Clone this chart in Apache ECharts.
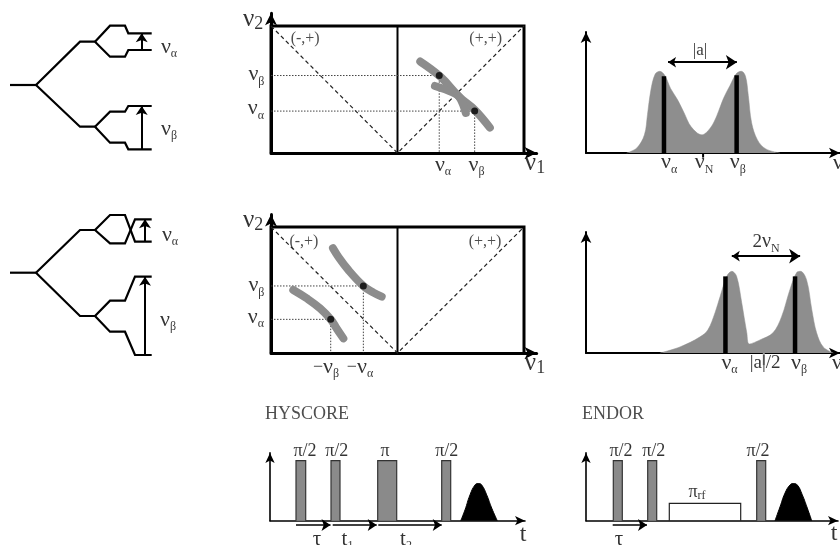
<!DOCTYPE html>
<html><head><meta charset="utf-8">
<script src="https://cdn.jsdelivr.net/npm/echarts@6/dist/echarts.min.js"></script>
<style>html,body{margin:0;padding:0;background:#fff}#c{width:840px;height:545px}</style>
</head><body><div id="c"></div>
<script>
// ---------------- DATA ----------------
// Energy-level diagram, top (arbitrary units: x position, energy)
const levTopTrunk = [[1.0,9.5],[3.6,9.5]];
const levTopA  = [[3.6,9.5],[8.0,13.83],[9.5,13.83]];
const levTopA1 = [[9.5,13.83],[11.0,15.43],[12.5,15.43],[12.83,14.67],[15.17,14.67]];
const levTopA2 = [[9.5,13.83],[11.0,12.33],[12.5,12.33],[12.83,13.0],[15.17,13.0]];
const levTopB  = [[3.6,9.5],[8.0,5.33],[9.5,5.33]];
const levTopB1 = [[9.5,5.33],[11.0,6.83],[12.5,6.83],[12.83,7.4],[15.17,7.4]];
const levTopB2 = [[9.5,5.33],[11.0,3.73],[12.5,3.73],[12.83,3.07],[15.17,3.07]];
const levTopArrows = [[[14.17,13.0],[14.17,14.67]],[[14.17,3.07],[14.17,7.4]]];
const levTopLabels = [[16.9,13.3,'{v|ν}{s|α}'],[16.9,5.1,'{v|ν}{s|β}']];

// Energy-level diagram, bottom
const levBotTrunk = [[1.0,10.73],[3.6,10.73]];
const levBotA  = [[3.6,10.73],[8.0,15.0],[9.5,15.0]];
const levBotA1 = [[9.5,15.0],[11.0,16.5],[12.5,16.5],[13.5,13.83],[15.17,13.83]];
const levBotA2 = [[9.5,15.0],[11.0,13.67],[12.5,13.67],[13.5,16.07],[15.17,16.07]];
const levBotB  = [[3.6,10.73],[8.0,6.4],[9.5,6.4]];
const levBotB1 = [[9.5,6.4],[11.0,7.93],[12.5,7.93],[13.5,10.33],[15.17,10.33]];
const levBotB2 = [[9.5,6.4],[11.0,4.83],[12.5,4.83],[13.5,2.5],[15.17,2.5]];
const levBotArrows = [[[14.5,13.83],[14.5,16.07]],[[14.5,2.5],[14.5,10.33]]];
const levBotLabels = [[17.0,14.5,'{v|ν}{s|α}'],[16.8,6.0,'{v|ν}{s|β}']];

// HYSCORE maps (nu1 in [-1,1], nu2 in [0,1])
const hysBox  = [[-1,0],[-1,1],[1,1],[1,0]];
const hysMid  = [[0,0],[0,1]];
const hysDiag = [[-1,1],[0,0],[1,1]];

const hys1Dots   = [[0.33,0.61],[0.61,0.33]];
const hys1Guides = [[[-1,0.61],[0.33,0.61],[0.33,0]],[[-1,0.33],[0.61,0.33],[0.61,0]]];
const hys1RidgeA = [[0.18,0.72],[0.34,0.60],[0.49,0.44],[0.61,0.34],[0.73,0.20]];
const hys1RidgeB = [[0.296,0.528],[0.44,0.475],[0.49,0.44],[0.54,0.315]];
const hys1Labels = [
  [-1.142,1.055,'{V|ν}{D|2}'],[-0.73,0.898,'{q|(-,+)}'],[0.697,0.898,'{q|(+,+)}'],
  [-1.115,0.618,'{v|ν}{s|β}'],[-1.12,0.35,'{v|ν}{s|α}'],
  [0.36,-0.094,'{v|ν}{s|α}'],[0.625,-0.094,'{v|ν}{s|β}'],[1.087,-0.08,'{V|ν}{D|1}']
];

const hys2Dots   = [[-0.27,0.532],[-0.528,0.267]];
const hys2Guides = [[[-1,0.532],[-0.27,0.532],[-0.27,0]],[[-1,0.267],[-0.528,0.267],[-0.528,0]]];
const hys2RidgeA = [[-0.51,0.831],[-0.468,0.764],[-0.389,0.659],[-0.27,0.532],[-0.19,0.479],[-0.125,0.447]];
const hys2RidgeB = [[-0.824,0.5],[-0.718,0.434],[-0.613,0.355],[-0.528,0.267],[-0.481,0.195],[-0.428,0.116]];
const hys2Labels = [
  [-1.142,1.055,'{V|ν}{D|2}'],[-0.74,0.881,'{q|(-,+)}'],[0.692,0.881,'{q|(+,+)}'],
  [-1.115,0.536,'{v|ν}{s|β}'],[-1.12,0.287,'{v|ν}{s|α}'],
  [-0.565,-0.11,'{m|−}{v|ν}{s|β}'],[-0.296,-0.11,'{m|−}{v|ν}{s|α}'],[1.087,-0.08,'{V|ν}{D|1}']
];

// Spectra (frequency, intensity)
const spec1 = [[1.60,0],[2.00,0.05],[2.30,0.18],[2.42,0.38],[2.55,0.62],[2.72,0.78],[2.90,0.81],[3.10,0.77],[3.33,0.64],[3.60,0.53],[3.86,0.40],[4.14,0.26],[4.56,0.18],[4.90,0.25],[5.15,0.37],[5.41,0.54],[5.67,0.67],[5.93,0.79],[6.12,0.81],[6.28,0.76],[6.39,0.57],[6.52,0.30],[6.75,0.13],[7.08,0.04],[7.64,0]];
const spec1Sticks = [[[3.07,0],[3.07,0.76]],[[5.93,0],[5.93,0.77]]];
const spec1Tick = [[4.61,0],[4.61,-0.045]];
const spec1Span = [[[3.23,0.90],[5.94,0.90]]];
const spec1Labels = [[3.27,-0.094,'{v|ν}{s|α}'],[4.65,-0.094,'{v|ν}{s|N}'],[5.98,-0.094,'{v|ν}{s|β}'],[9.92,-0.104,'{v|ν}'],[4.49,1.02,'{k|\u007Ca\u007C}']];

const spec2 = [[2.91,0],[3.70,0.06],[4.49,0.16],[4.80,0.23],[5.08,0.40],[5.28,0.56],[5.54,0.76],[5.74,0.81],[5.93,0.76],[6.13,0.50],[6.33,0.20],[6.43,0.09],[6.85,0.13],[7.36,0.20],[7.70,0.36],[8.03,0.63],[8.30,0.80],[8.45,0.81],[8.69,0.72],[8.89,0.43],[9.08,0.20],[9.34,0.06],[9.74,0]];
const spec2Sticks = [[[5.49,0],[5.49,0.76]],[[8.23,0],[8.23,0.76]]];
const spec2Tick = [[7.0,0],[7.0,-0.12]];
const spec2Span = [[[5.74,0.96],[8.43,0.96]]];
const spec2Labels = [[5.65,-0.1,'{v|ν}{s|α}'],[7.05,-0.1,'{k2|\u007Ca\u007C/2}'],[8.39,-0.1,'{v|ν}{s|β}'],[9.88,-0.1,'{v|ν}'],[7.09,1.1,'{w|2}{v2|ν}{s|N}']];

// Pulse sequences (time, amplitude)
const hysPulses = [[2.6,3.57],[6.1,7.0],[10.77,12.67],[17.17,18.07]];
const hysEcho = [[19.07,0],[19.5,0.18],[20.0,0.43],[20.5,0.595],[20.83,0.62],[21.17,0.595],[21.67,0.43],[22.17,0.21],[22.73,0]];
const hysDelays = [[[2.6,-0.07],[6.05,-0.07]],[[6.27,-0.07],[10.67,-0.07]],[[10.83,-0.07],[17.17,-0.07]]];
const hysLabels = [[-0.5,1.78,'{h|HYSCORE}','left'],[3.5,1.16,'{p|π/2}'],[6.67,1.16,'{p|π/2}'],[11.5,1.16,'{p|π}'],[17.67,1.16,'{p|π/2}'],
  [4.7,-0.32,'{t|τ}'],[7.75,-0.32,'{t|t}{ts|1}'],[13.6,-0.32,'{t|t}{ts|2}'],[25.3,-0.23,'{T|t}']];

const endPulses = [[2.73,3.63],[6.17,7.07],[17.07,17.97]];
const endRF = [[8.33,0],[8.33,0.29],[15.47,0.29],[15.47,0]];
const endEcho = [[18.9,0],[19.4,0.23],[19.9,0.46],[20.4,0.595],[20.73,0.62],[21.13,0.595],[21.63,0.43],[22.13,0.21],[22.57,0]];
const endDelays = [[[2.67,-0.07],[6.1,-0.07]]];
const endLabels = [[-0.4,1.78,'{h|ENDOR}','left'],[3.5,1.16,'{p|π/2}'],[6.77,1.16,'{p|π/2}'],[17.2,1.16,'{p|π/2}'],
  [11.1,0.48,'{p|π}{ts|rf}'],[3.3,-0.32,'{t|τ}'],[24.8,-0.22,'{T|t}']];

// ---------------- LAYOUT / STYLE ----------------
const SERIF = '"Liberation Serif","DejaVu Serif",serif';
const INK = '#000';
const RICH = {
  v:  {fontFamily:SERIF, fontSize:22, color:INK, lineHeight:26},
  v2: {fontFamily:SERIF, fontSize:20, color:INK, lineHeight:26},
  s:  {fontFamily:SERIF, fontSize:12, color:INK, lineHeight:12, verticalAlign:'bottom'},
  V:  {fontFamily:SERIF, fontSize:25, color:INK, lineHeight:28},
  D:  {fontFamily:SERIF, fontSize:18, color:INK, lineHeight:18, verticalAlign:'bottom'},
  m:  {fontFamily:SERIF, fontSize:18, color:INK, lineHeight:26},
  q:  {fontFamily:SERIF, fontSize:16, color:'#222'},
  k:  {fontFamily:SERIF, fontSize:17, color:INK},
  k2: {fontFamily:SERIF, fontSize:19, color:INK},
  w:  {fontFamily:SERIF, fontSize:19, color:INK, lineHeight:26},
  p:  {fontFamily:SERIF, fontSize:18, color:INK, lineHeight:20},
  h:  {fontFamily:SERIF, fontSize:18, color:'#222'},
  t:  {fontFamily:SERIF, fontSize:21, color:INK, lineHeight:24},
  ts: {fontFamily:SERIF, fontSize:12, color:INK, lineHeight:14, verticalAlign:'bottom'},
  T:  {fontFamily:SERIF, fontSize:24, color:INK}
};

const grids = [
  {left:0, top:0, width:200, height:180},
  {left:0, top:180, width:200, height:200},
  {left:271, top:13.3, width:265.65, height:139.7},
  {left:271, top:214.4, width:265.65, height:138.6},
  {left:586, top:32, width:254, height:121},
  {left:586, top:232, width:254, height:121},
  {left:270, top:452.9, width:255, height:67.8},
  {left:586, top:452.9, width:252, height:67.8}
];
const xr = [[0,20],[0,20],[-1,1.1],[-1,1.1],[0,10],[0,10],[0,25.5],[0,25.2]];
const yr = [[0,18],[0,20],[0,1.1],[0,1.1],[0,1.2],[0,1.2],[0,1.13],[0,1.13]];
const axW = [0,0,3,3,2,2,1.6,1.6];
const axS = [0,0,[9,12],[9,12],[8,11],[8,11],[7,10],[7,10]];

function axis(i, rng) {
  const shown = axW[i] > 0;
  return {type:'value', gridIndex:i, min:rng[0], max:rng[1], show:shown,
    axisLine:{show:shown, onZero:false, symbol:['none','arrow'], symbolSize:axS[i] || [1,1], lineStyle:{color:'#000', width:axW[i] || 1}},
    axisTick:{show:false}, axisLabel:{show:false}, splitLine:{show:false}};
}

function poly(g, data, color, width, type, extra) {
  return Object.assign({type:'line', xAxisIndex:g, yAxisIndex:g, data:data, symbol:'none', clip:false, silent:true, animation:false, z:2,
    lineStyle:{color:color, width:width, type:type || 'solid', cap:'butt', join:'miter'}}, extra || {});
}
function arrows(g, segs, both, width, size) {
  return {type:'lines', coordinateSystem:'cartesian2d', xAxisIndex:g, yAxisIndex:g, silent:true, animation:false, z:4, clip:false,
    symbol: both ? ['arrow','arrow'] : ['none','arrow'], symbolSize:size,
    lineStyle:{color:'#000', width:width, opacity:1, curveness:0},
    data: segs.map(function(c){ return {coords:c}; })};
}
function dots(g, pts, size) {
  return {type:'scatter', xAxisIndex:g, yAxisIndex:g, data:pts, symbolSize:size, itemStyle:{color:'#000'}, silent:true, animation:false, z:6, clip:false};
}
function texts(g, items) {
  return {type:'scatter', xAxisIndex:g, yAxisIndex:g, silent:true, animation:false, z:7, clip:false, symbolSize:1,
    itemStyle:{color:'rgba(0,0,0,0)'},
    data: items.map(function(it){ return {value:[it[0], it[1]], label:{show:true, position:'inside',
      formatter:function(){ return it[2]; }, align:it[3] || 'center', verticalAlign:'middle', rich:RICH}}; })};
}

const series = [];
// energy-level diagrams
[levTopTrunk, levTopA, levTopA1, levTopA2, levTopB, levTopB1, levTopB2].forEach(function(d){ series.push(poly(0, d, '#000', 2.2)); });
series.push(arrows(0, levTopArrows, false, 2, [7,9]));
series.push(texts(0, levTopLabels));
[levBotTrunk, levBotA, levBotA1, levBotA2, levBotB, levBotB1, levBotB2].forEach(function(d){ series.push(poly(1, d, '#000', 2.2)); });
series.push(arrows(1, levBotArrows, false, 2, [7,9]));
series.push(texts(1, levBotLabels));

// HYSCORE maps
[[2, hys1Guides, [hys1RidgeA, hys1RidgeB], hys1Dots, hys1Labels], [3, hys2Guides, [hys2RidgeA, hys2RidgeB], hys2Dots, hys2Labels]].forEach(function(p){
  const g = p[0];
  series.push(poly(g, hysBox, '#000', 3));
  series.push(poly(g, hysMid, '#000', 2));
  series.push(poly(g, hysDiag, '#222', 1.2, [4,3]));
  p[1].forEach(function(d){ series.push(poly(g, d, '#444', 1, [1.5,1.5])); });
  p[2].forEach(function(d){ series.push(poly(g, d, '#8c8c8c', 8, 'solid', {smooth:0.4, z:3, lineStyle:{color:'#8c8c8c', width:8, cap:'round', join:'round'}})); });
  series.push(dots(g, p[3], 7));
  series.push(texts(g, p[4]));
});

// spectra
[[4, spec1, spec1Sticks, spec1Tick, spec1Span, spec1Labels, '#000'], [5, spec2, spec2Sticks, spec2Tick, spec2Span, spec2Labels, '#999']].forEach(function(p){
  const g = p[0];
  series.push(poly(g, p[1], '#8e8e8e', 0.5, 'solid', {smooth:0.35, z:1, areaStyle:{color:'#8e8e8e', opacity:1}}));
  p[2].forEach(function(d){ series.push(poly(g, d, '#000', 4.5, 'solid', {z:3})); });
  series.push(poly(g, p[3], p[6], 2));
  series.push(arrows(g, p[4], true, 2, [8,11]));
  series.push(texts(g, p[5]));
});

// pulse sequences
function rect(a, b, h) { return [[a,0],[a,h],[b,h],[b,0]]; }
hysPulses.forEach(function(pl){ series.push(poly(6, rect(pl[0], pl[1], 1), '#333', 1.2, 'solid', {areaStyle:{color:'#8a8a8a', opacity:1}})); });
series.push(poly(6, hysEcho, '#000', 1, 'solid', {smooth:0.5, areaStyle:{color:'#000', opacity:1}}));
series.push(arrows(6, hysDelays, false, 1.5, [7,9]));
series.push(texts(6, hysLabels));

endPulses.forEach(function(pl){ series.push(poly(7, rect(pl[0], pl[1], 1), '#333', 1.2, 'solid', {areaStyle:{color:'#8a8a8a', opacity:1}})); });
series.push(poly(7, endRF, '#222', 1.2));
series.push(poly(7, endEcho, '#000', 1, 'solid', {smooth:0.5, areaStyle:{color:'#000', opacity:1}}));
series.push(arrows(7, endDelays, false, 1.5, [7,9]));
series.push(texts(7, endLabels));

const chart = echarts.init(document.getElementById('c'));
chart.setOption({
  animation:false,
  backgroundColor:'#fff',
  grid: grids,
  xAxis: xr.map(function(r,i){ return axis(i, r); }),
  yAxis: yr.map(function(r,i){ return axis(i, r); }),
  series: series
});
</script></body></html>
